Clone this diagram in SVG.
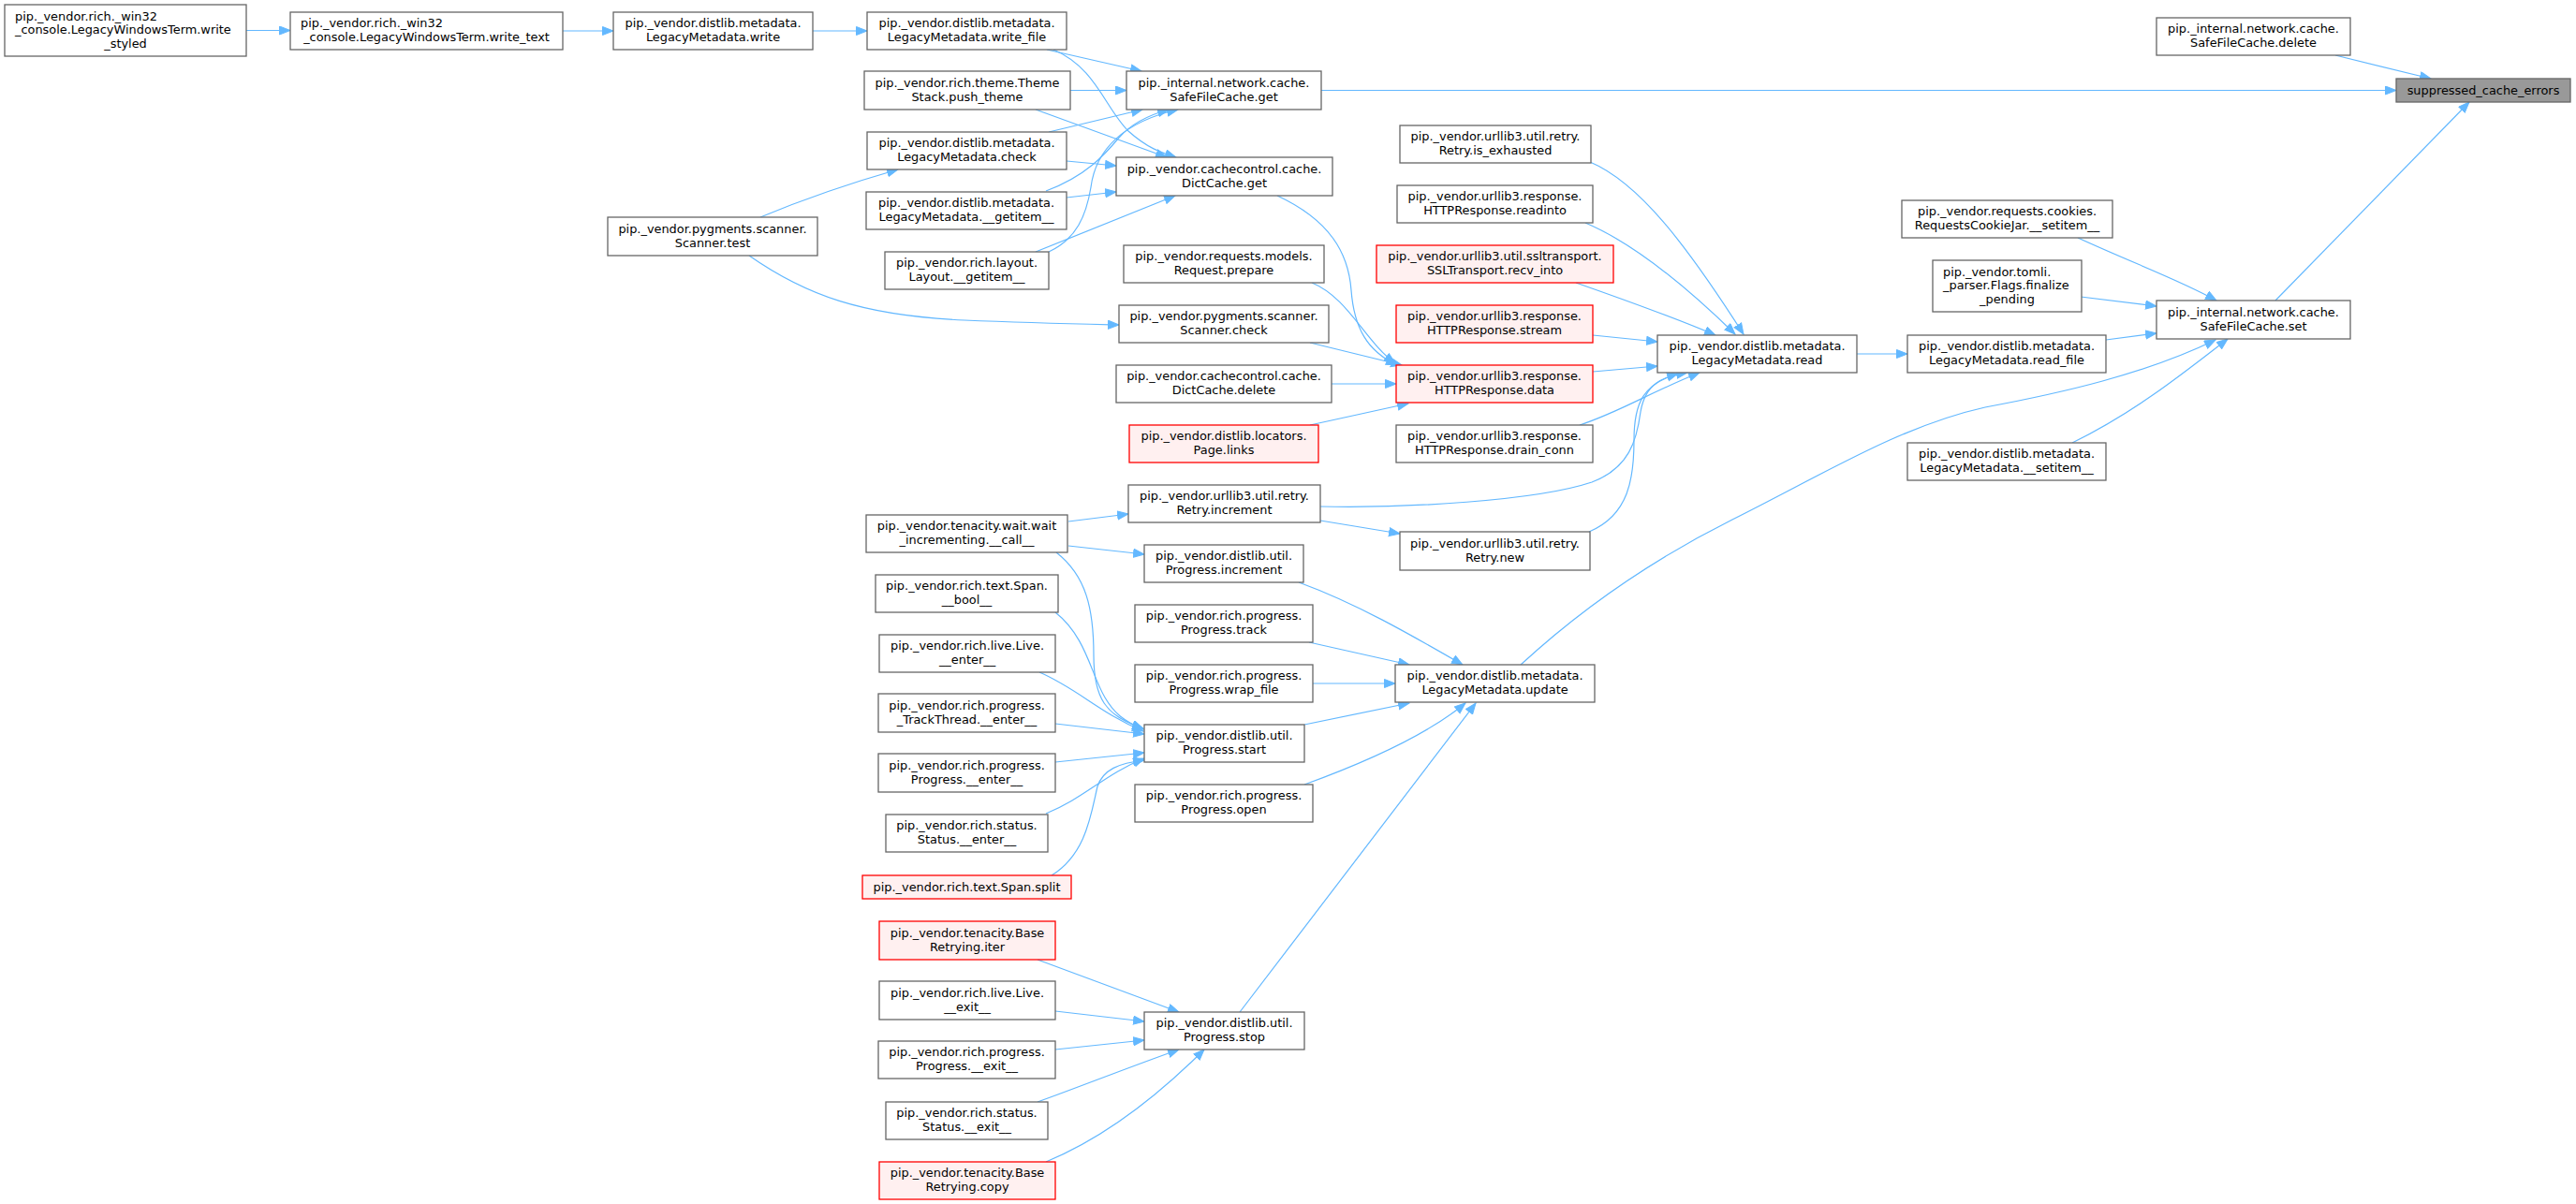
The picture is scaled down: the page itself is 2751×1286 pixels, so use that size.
<svg xmlns="http://www.w3.org/2000/svg" width="2751" height="1286" viewBox="0 0 2751 1286">
<style>
.n rect{fill:#ffffff;stroke:#666666;stroke-width:1.3}
.r rect{fill:#fff0f0;stroke:#ff0000;stroke-width:1.3}
.root rect{fill:#999999;stroke:#666666;stroke-width:1.3}
text{font-family:"DejaVu Sans","Liberation Sans",sans-serif;font-size:12.9px;fill:#000000;text-anchor:middle}
text .l{text-anchor:start}
#edges path{fill:none;stroke:#63b8ff;stroke-width:1.2;marker-end:url(#arr)}
</style>
<defs>
<marker id="arr" markerWidth="14" markerHeight="12" refX="12" refY="5" orient="auto" markerUnits="userSpaceOnUse">
<path d="M0.5,0.5 L12,5 L0.5,9.5 z" fill="#63b8ff" stroke="#63b8ff" stroke-width="1"/>
</marker>
</defs>
<rect width="2751" height="1286" fill="#ffffff"/>
<g id="edges">
<path d="M263,32.5 L310,32.5"/>
<path d="M601,33 L655,33"/>
<path d="M868,33 L926,33"/>
<path d="M1118,53 L1219,76"/>
<path d="M1125,53 C1170,72 1180,115 1205,140 C1225,158 1240,163 1256,168"/>
<path d="M1143,96.5 L1203,96.5"/>
<path d="M1106,117 L1246,168"/>
<path d="M1120,141 L1220,117"/>
<path d="M1139,172 L1192,177"/>
<path d="M1117,204 C1160,188 1180,165 1195,147 C1210,130 1230,122 1248,117"/>
<path d="M1139,211 L1192,205"/>
<path d="M1120,269 C1150,255 1160,230 1165,200 C1170,160 1200,130 1258,117"/>
<path d="M1106,269 L1255,209"/>
<path d="M812,232 C860,212 910,195 959,181"/>
<path d="M800,273 C860,315 920,337 1030,342 C1100,345 1150,346 1195,347"/>
<path d="M1364,209 C1420,235 1440,270 1443,310 C1446,350 1460,375 1492,390"/>
<path d="M1401,302 C1440,318 1458,365 1490,388"/>
<path d="M1399,366 L1497,390"/>
<path d="M1422,410 L1491,410"/>
<path d="M1399,454 L1504,431"/>
<path d="M1698,173 C1750,195 1800,260 1862,357"/>
<path d="M1693,238 C1750,262 1810,315 1853,357"/>
<path d="M1683,302 C1740,322 1790,340 1832,358"/>
<path d="M1701,358 L1770,365"/>
<path d="M1701,397 L1770,391"/>
<path d="M1687,454 C1730,440 1760,420 1815,398"/>
<path d="M1410,541 C1500,543 1640,535 1700,515 C1740,500 1748,470 1752,440 C1757,410 1775,402 1802,398"/>
<path d="M1697,568 C1740,550 1745,510 1745,470 C1745,430 1755,410 1792,399"/>
<path d="M1410,556 L1495,570"/>
<path d="M1141,557 L1205,549"/>
<path d="M1141,583 L1222,592"/>
<path d="M1128,590 C1160,615 1168,650 1168,700 C1168,745 1180,765 1221,778"/>
<path d="M1127,654 C1160,680 1165,720 1180,745 C1190,762 1200,770 1221,779"/>
<path d="M1110,718 C1150,735 1175,762 1221,781"/>
<path d="M1127,773 L1222,784"/>
<path d="M1127,814 L1222,804"/>
<path d="M1117,869 C1157,853 1180,827 1222,810"/>
<path d="M1123,935 C1160,912 1165,870 1172,840 C1178,822 1195,815 1222,812"/>
<path d="M1387,622 C1450,645 1510,680 1562,710"/>
<path d="M1398,686 L1505,710"/>
<path d="M1402,730 L1490,730"/>
<path d="M1393,774 L1505,751"/>
<path d="M1393,838 C1470,810 1530,780 1565,751"/>
<path d="M1324,1081 L1576,751"/>
<path d="M1108,1025 L1259,1081"/>
<path d="M1127,1080 L1222,1091"/>
<path d="M1127,1121 L1222,1111"/>
<path d="M1108,1177 C1150,1162 1200,1142 1259,1121"/>
<path d="M1117,1241 C1180,1215 1235,1172 1286,1121"/>
<path d="M1983,378 L2037,378"/>
<path d="M2249,363 L2303,356"/>
<path d="M2219,254 C2280,282 2330,300 2367,321"/>
<path d="M2222,317 L2303,327"/>
<path d="M2213,473 C2280,440 2330,400 2379,362"/>
<path d="M1624,710 C1700,640 1780,590 1850,555 C1950,505 2030,455 2120,435 C2200,420 2290,400 2366,363"/>
<path d="M2430,321 L2637,109"/>
<path d="M1411,96.5 L2559,96.5"/>
<path d="M2494,59 L2596,84"/>
</g>
<g id="write_styled" class="n"><rect x="5" y="5" width="258" height="55"/><text><tspan class="l" x="16" y="21.5">pip._vendor.rich._win32</tspan><tspan class="l" x="16" y="36.2">_console.LegacyWindowsTerm.write</tspan><tspan x="134" y="50.9">_styled</tspan></text></g>
<g id="write_text" class="n"><rect x="310" y="13" width="291" height="40"/><text><tspan class="l" x="321" y="29.3">pip._vendor.rich._win32</tspan><tspan x="455.5" y="44">_console.LegacyWindowsTerm.write_text</tspan></text></g>
<g id="lm_write" class="n"><rect x="655" y="13" width="213" height="40"/><text><tspan x="761.5" y="29.3">pip._vendor.distlib.metadata.</tspan><tspan x="761.5" y="44">LegacyMetadata.write</tspan></text></g>
<g id="scanner_test" class="n"><rect x="649" y="232" width="224" height="41"/><text><tspan x="761" y="248.8">pip._vendor.pygments.scanner.</tspan><tspan x="761" y="263.5">Scanner.test</tspan></text></g>
<g id="lm_write_file" class="n"><rect x="926" y="13" width="213" height="40"/><text><tspan x="1032.5" y="29.3">pip._vendor.distlib.metadata.</tspan><tspan x="1032.5" y="44">LegacyMetadata.write_file</tspan></text></g>
<g id="push_theme" class="n"><rect x="923" y="76" width="220" height="41"/><text><tspan x="1033" y="92.8">pip._vendor.rich.theme.Theme</tspan><tspan x="1033" y="107.5">Stack.push_theme</tspan></text></g>
<g id="lm_check" class="n"><rect x="926" y="141" width="213" height="40"/><text><tspan x="1032.5" y="157.3">pip._vendor.distlib.metadata.</tspan><tspan x="1032.5" y="172">LegacyMetadata.check</tspan></text></g>
<g id="lm_getitem" class="n"><rect x="925" y="205" width="214" height="40"/><text><tspan x="1032" y="221.3">pip._vendor.distlib.metadata.</tspan><tspan x="1032" y="236">LegacyMetadata.__getitem__</tspan></text></g>
<g id="layout_getitem" class="n"><rect x="945" y="269" width="175" height="40"/><text><tspan x="1032.5" y="285.3">pip._vendor.rich.layout.</tspan><tspan x="1032.5" y="300">Layout.__getitem__</tspan></text></g>
<g id="wait_incrementing" class="n"><rect x="925" y="550" width="215" height="40"/><text><tspan x="1032.5" y="566.3">pip._vendor.tenacity.wait.wait</tspan><tspan x="1032.5" y="581">_incrementing.__call__</tspan></text></g>
<g id="span_bool" class="n"><rect x="935" y="614" width="195" height="40"/><text><tspan x="1032.5" y="630.3">pip._vendor.rich.text.Span.</tspan><tspan x="1032.5" y="645">__bool__</tspan></text></g>
<g id="live_enter" class="n"><rect x="939" y="678" width="188" height="40"/><text><tspan x="1033" y="694.3">pip._vendor.rich.live.Live.</tspan><tspan x="1033" y="709">__enter__</tspan></text></g>
<g id="trackthread_enter" class="n"><rect x="938" y="741" width="189" height="41"/><text><tspan x="1032.5" y="757.8">pip._vendor.rich.progress.</tspan><tspan x="1032.5" y="772.5">_TrackThread.__enter__</tspan></text></g>
<g id="progress_enter" class="n"><rect x="938" y="805" width="189" height="41"/><text><tspan x="1032.5" y="821.8">pip._vendor.rich.progress.</tspan><tspan x="1032.5" y="836.5">Progress.__enter__</tspan></text></g>
<g id="status_enter" class="n"><rect x="946" y="870" width="173" height="40"/><text><tspan x="1032.5" y="886.3">pip._vendor.rich.status.</tspan><tspan x="1032.5" y="901">Status.__enter__</tspan></text></g>
<g id="span_split" class="r"><rect x="921" y="935" width="223" height="25"/><text><tspan x="1032.5" y="952.1">pip._vendor.rich.text.Span.split</tspan></text></g>
<g id="retrying_iter" class="r"><rect x="939" y="984" width="188" height="41"/><text><tspan x="1033" y="1000.8">pip._vendor.tenacity.Base</tspan><tspan x="1033" y="1015.5">Retrying.iter</tspan></text></g>
<g id="live_exit" class="n"><rect x="939" y="1048" width="188" height="41"/><text><tspan x="1033" y="1064.8">pip._vendor.rich.live.Live.</tspan><tspan x="1033" y="1079.5">__exit__</tspan></text></g>
<g id="progress_exit" class="n"><rect x="938" y="1112" width="189" height="40"/><text><tspan x="1032.5" y="1128.3">pip._vendor.rich.progress.</tspan><tspan x="1032.5" y="1143">Progress.__exit__</tspan></text></g>
<g id="status_exit" class="n"><rect x="946" y="1177" width="173" height="40"/><text><tspan x="1032.5" y="1193.3">pip._vendor.rich.status.</tspan><tspan x="1032.5" y="1208">Status.__exit__</tspan></text></g>
<g id="retrying_copy" class="r"><rect x="939" y="1241" width="188" height="40"/><text><tspan x="1033" y="1257.3">pip._vendor.tenacity.Base</tspan><tspan x="1033" y="1272">Retrying.copy</tspan></text></g>
<g id="sfc_get" class="n"><rect x="1203" y="76" width="208" height="41"/><text><tspan x="1307" y="92.8">pip._internal.network.cache.</tspan><tspan x="1307" y="107.5">SafeFileCache.get</tspan></text></g>
<g id="dictcache_get" class="n"><rect x="1192" y="168" width="231" height="41"/><text><tspan x="1307.5" y="184.8">pip._vendor.cachecontrol.cache.</tspan><tspan x="1307.5" y="199.5">DictCache.get</tspan></text></g>
<g id="request_prepare" class="n"><rect x="1200" y="262" width="214" height="40"/><text><tspan x="1307" y="278.3">pip._vendor.requests.models.</tspan><tspan x="1307" y="293">Request.prepare</tspan></text></g>
<g id="scanner_check" class="n"><rect x="1195" y="326" width="224" height="40"/><text><tspan x="1307" y="342.3">pip._vendor.pygments.scanner.</tspan><tspan x="1307" y="357">Scanner.check</tspan></text></g>
<g id="dictcache_delete" class="n"><rect x="1192" y="390" width="230" height="40"/><text><tspan x="1307" y="406.3">pip._vendor.cachecontrol.cache.</tspan><tspan x="1307" y="421">DictCache.delete</tspan></text></g>
<g id="page_links" class="r"><rect x="1206" y="454" width="202" height="40"/><text><tspan x="1307" y="470.3">pip._vendor.distlib.locators.</tspan><tspan x="1307" y="485">Page.links</tspan></text></g>
<g id="retry_increment" class="n"><rect x="1205" y="518" width="205" height="40"/><text><tspan x="1307.5" y="534.3">pip._vendor.urllib3.util.retry.</tspan><tspan x="1307.5" y="549">Retry.increment</tspan></text></g>
<g id="progress_increment" class="n"><rect x="1222" y="582" width="170" height="40"/><text><tspan x="1307" y="598.3">pip._vendor.distlib.util.</tspan><tspan x="1307" y="613">Progress.increment</tspan></text></g>
<g id="progress_track" class="n"><rect x="1212" y="646" width="190" height="40"/><text><tspan x="1307" y="662.3">pip._vendor.rich.progress.</tspan><tspan x="1307" y="677">Progress.track</tspan></text></g>
<g id="progress_wrap_file" class="n"><rect x="1212" y="710" width="190" height="40"/><text><tspan x="1307" y="726.3">pip._vendor.rich.progress.</tspan><tspan x="1307" y="741">Progress.wrap_file</tspan></text></g>
<g id="progress_start" class="n"><rect x="1222" y="774" width="171" height="40"/><text><tspan x="1307.5" y="790.3">pip._vendor.distlib.util.</tspan><tspan x="1307.5" y="805">Progress.start</tspan></text></g>
<g id="progress_open" class="n"><rect x="1212" y="838" width="190" height="40"/><text><tspan x="1307" y="854.3">pip._vendor.rich.progress.</tspan><tspan x="1307" y="869">Progress.open</tspan></text></g>
<g id="progress_stop" class="n"><rect x="1222" y="1081" width="171" height="40"/><text><tspan x="1307.5" y="1097.3">pip._vendor.distlib.util.</tspan><tspan x="1307.5" y="1112">Progress.stop</tspan></text></g>
<g id="retry_is_exhausted" class="n"><rect x="1495" y="134" width="204" height="40"/><text><tspan x="1597" y="150.3">pip._vendor.urllib3.util.retry.</tspan><tspan x="1597" y="165">Retry.is_exhausted</tspan></text></g>
<g id="resp_readinto" class="n"><rect x="1492" y="198" width="209" height="40"/><text><tspan x="1596.5" y="214.3">pip._vendor.urllib3.response.</tspan><tspan x="1596.5" y="229">HTTPResponse.readinto</tspan></text></g>
<g id="ssl_recv_into" class="r"><rect x="1470" y="262" width="253" height="40"/><text><tspan x="1596.5" y="278.3">pip._vendor.urllib3.util.ssltransport.</tspan><tspan x="1596.5" y="293">SSLTransport.recv_into</tspan></text></g>
<g id="resp_stream" class="r"><rect x="1491" y="326" width="210" height="40"/><text><tspan x="1596" y="342.3">pip._vendor.urllib3.response.</tspan><tspan x="1596" y="357">HTTPResponse.stream</tspan></text></g>
<g id="resp_data" class="r"><rect x="1491" y="390" width="210" height="40"/><text><tspan x="1596" y="406.3">pip._vendor.urllib3.response.</tspan><tspan x="1596" y="421">HTTPResponse.data</tspan></text></g>
<g id="resp_drain_conn" class="n"><rect x="1491" y="454" width="210" height="40"/><text><tspan x="1596" y="470.3">pip._vendor.urllib3.response.</tspan><tspan x="1596" y="485">HTTPResponse.drain_conn</tspan></text></g>
<g id="retry_new" class="n"><rect x="1495" y="568" width="203" height="41"/><text><tspan x="1596.5" y="584.8">pip._vendor.urllib3.util.retry.</tspan><tspan x="1596.5" y="599.5">Retry.new</tspan></text></g>
<g id="lm_update" class="n"><rect x="1490" y="710" width="213" height="40"/><text><tspan x="1596.5" y="726.3">pip._vendor.distlib.metadata.</tspan><tspan x="1596.5" y="741">LegacyMetadata.update</tspan></text></g>
<g id="lm_read" class="n"><rect x="1770" y="358" width="213" height="40"/><text><tspan x="1876.5" y="374.3">pip._vendor.distlib.metadata.</tspan><tspan x="1876.5" y="389">LegacyMetadata.read</tspan></text></g>
<g id="cookiejar_setitem" class="n"><rect x="2031" y="214" width="225" height="40"/><text><tspan x="2143.5" y="230.3">pip._vendor.requests.cookies.</tspan><tspan x="2143.5" y="245">RequestsCookieJar.__setitem__</tspan></text></g>
<g id="tomli_finalize_pending" class="n"><rect x="2064" y="278" width="159" height="55"/><text><tspan class="l" x="2075" y="294.5">pip._vendor.tomli.</tspan><tspan class="l" x="2075" y="309.2">_parser.Flags.finalize</tspan><tspan x="2143.5" y="323.9">_pending</tspan></text></g>
<g id="lm_read_file" class="n"><rect x="2037" y="358" width="212" height="40"/><text><tspan x="2143" y="374.3">pip._vendor.distlib.metadata.</tspan><tspan x="2143" y="389">LegacyMetadata.read_file</tspan></text></g>
<g id="lm_setitem" class="n"><rect x="2037" y="473" width="212" height="40"/><text><tspan x="2143" y="489.3">pip._vendor.distlib.metadata.</tspan><tspan x="2143" y="504">LegacyMetadata.__setitem__</tspan></text></g>
<g id="sfc_delete" class="n"><rect x="2303" y="19" width="207" height="40"/><text><tspan x="2406.5" y="35.3">pip._internal.network.cache.</tspan><tspan x="2406.5" y="50">SafeFileCache.delete</tspan></text></g>
<g id="sfc_set" class="n"><rect x="2303" y="321" width="207" height="41"/><text><tspan x="2406.5" y="337.8">pip._internal.network.cache.</tspan><tspan x="2406.5" y="352.5">SafeFileCache.set</tspan></text></g>
<g id="suppressed_cache_errors" class="root"><rect x="2559" y="84" width="186" height="25"/><text><tspan x="2652" y="101.1">suppressed_cache_errors</tspan></text></g>
</svg>
